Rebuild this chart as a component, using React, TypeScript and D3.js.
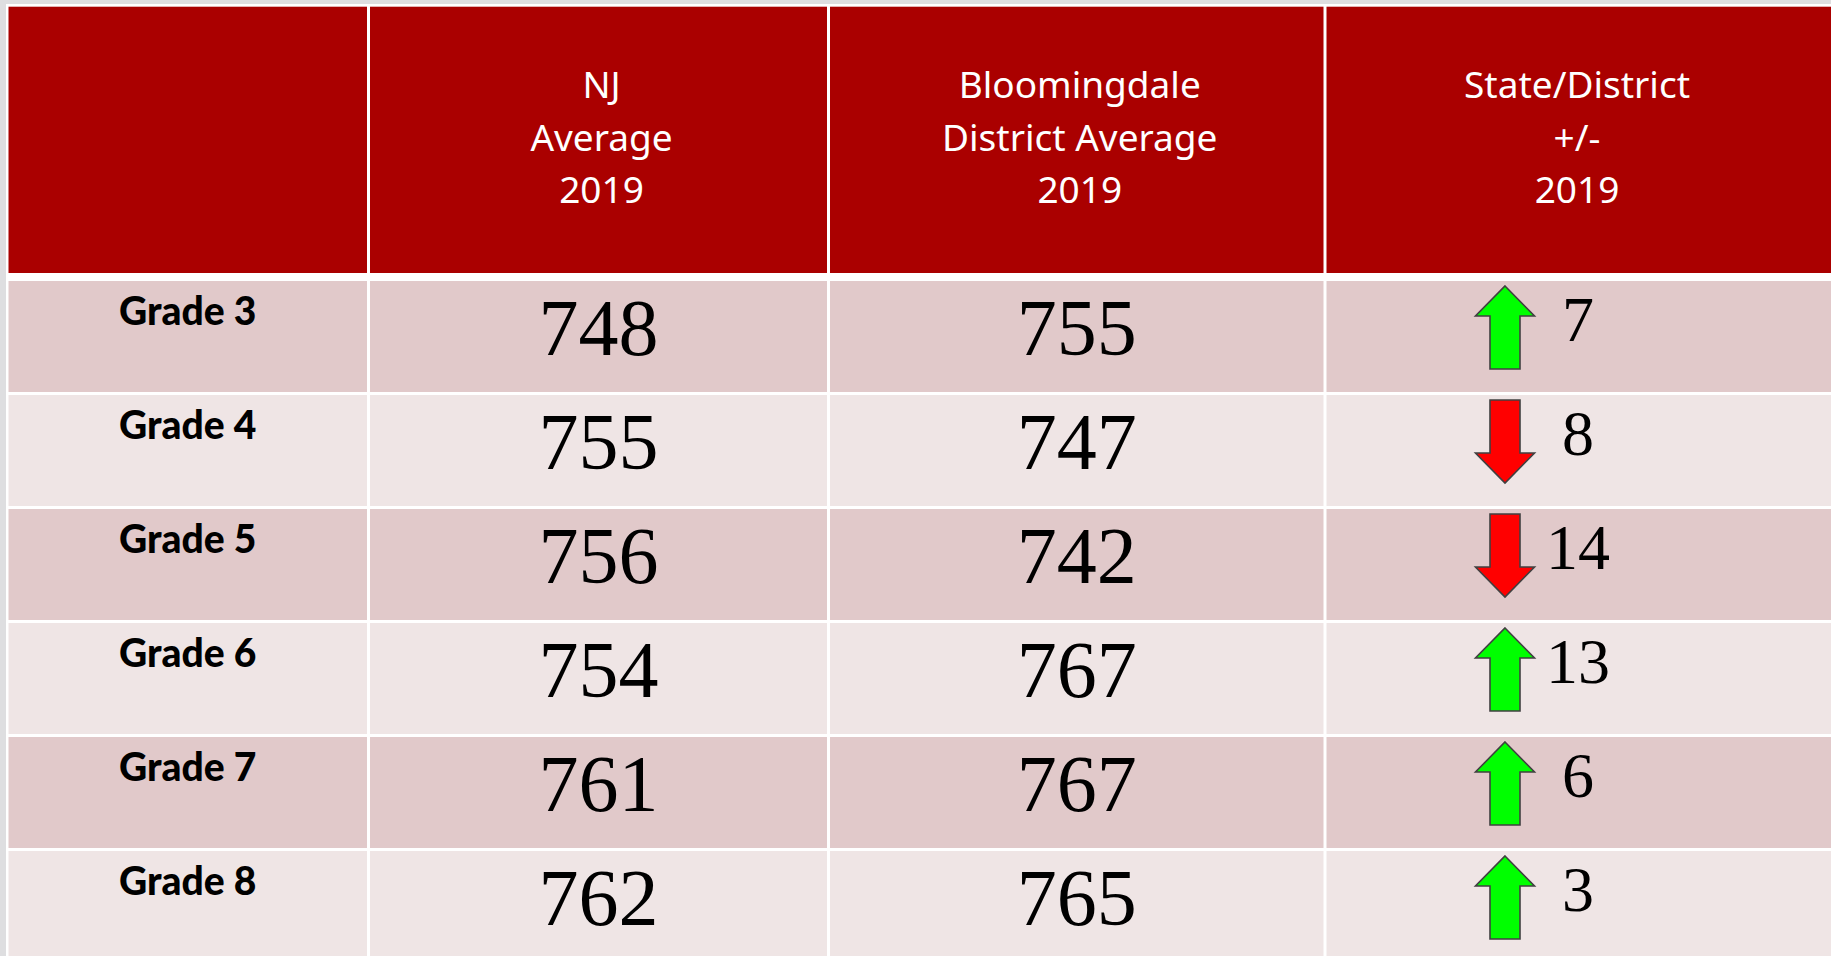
import * as d3 from "d3"

const grades = ["Grade 3", "Grade 4", "Grade 5", "Grade 6", "Grade 7", "Grade 8"]
const njAverage = [748, 755, 756, 754, 761, 762]
const districtAverage = [755, 747, 742, 767, 767, 765]
const difference = [7, -8, -14, 13, 6, 3]

const headerLines = [
  [],
  ["NJ", "Average", "2019"],
  ["Bloomingdale", "District Average", "2019"],
  ["State/District", "+/-", "2019"],
]

const W = 1831
const H = 956

// column edges (left, right)
const columns: [number, number][] = [
  [8.5, 367],
  [370, 827],
  [830, 1323.5],
  [1326.5, 1831],
]

const headerTop = 6.7
const headerBottom = 273
const rowsTop = 281

const rowScale = d3
  .scaleBand<string>()
  .domain(grades)
  .range([rowsTop, rowsTop + 5 * 114 + 111])
  .paddingInner(3 / 114)
  .paddingOuter(0)

const rowFill = ["#e1c9ca", "#efe5e5"]

function Arrow({ cx, top, up }: { cx: number; top: number; up: boolean }) {
  const headW = 29.5
  const shaftW = 15
  const len = 83
  const head = 30
  let pts: [number, number][]
  const t = top + 5
  if (up) {
    pts = [
      [cx, t],
      [cx + headW, t + head],
      [cx + shaftW, t + head],
      [cx + shaftW, t + len],
      [cx - shaftW, t + len],
      [cx - shaftW, t + head],
      [cx - headW, t + head],
    ]
  } else {
    const b = t + len
    pts = [
      [cx - shaftW, t],
      [cx + shaftW, t],
      [cx + shaftW, b - head],
      [cx + headW, b - head],
      [cx, b],
      [cx - headW, b - head],
      [cx - shaftW, b - head],
    ]
  }
  const line = d3.line().curve(d3.curveLinearClosed)
  return (
    <path
      d={line(pts) || ""}
      fill={up ? "#00ff00" : "#ff0000"}
      stroke="#404040"
      strokeWidth={1.6}
      strokeLinejoin="miter"
    />
  )
}

export default function App() {
  const headSans = "'Noto Sans', Lato, sans-serif"
  const sans = "Lato, 'Noto Sans', sans-serif"
  const serif = "'Liberation Serif', 'Times New Roman', serif"
  const mid = (c: [number, number]) => (c[0] + c[1]) / 2

  return (
    <div style={{ position: "fixed", left: 0, top: 0 }}>
      <svg width={W} height={H} style={{ display: "block" }}>
        <rect x={0} y={0} width={W} height={H} fill="#ffffff" />
        {/* grey strips along the slide edge */}
        <rect x={0} y={0} width={W} height={4} fill="#dedee0" />
        <rect x={0} y={0} width={6} height={H} fill="#dedee0" />

        {/* header */}
        {columns.map((c, i) => (
          <rect key={"h" + i} x={c[0]} y={headerTop} width={c[1] - c[0]} height={headerBottom - headerTop} fill="#aa0000" />
        ))}
        {headerLines.map((lines, i) =>
          lines.map((t, j) => (
            <text
              key={`ht${i}-${j}`}
              x={i === 3 ? 1577 : mid(columns[i]) + 3}
              y={98 + j * 52.5}
              textAnchor="middle"
              fill="#ffffff"
              fontFamily={headSans}
              fontSize={37}
            >
              {t}
            </text>
          ))
        )}

        {/* body rows */}
        {grades.map((g, r) => {
          const y = rowScale(g) as number
          const h = rowScale.bandwidth()
          const d = difference[r]
          return (
            <g key={g}>
              {columns.map((c, i) => (
                <rect key={i} x={c[0]} y={y} width={c[1] - c[0]} height={h} fill={rowFill[r % 2]} />
              ))}
              <text x={mid(columns[0])} y={y + 44} textAnchor="middle" fontFamily={sans} fontWeight={900} fontSize={39} fill="#000">
                {g}
              </text>
              <text x={mid(columns[1])} y={y + 74} textAnchor="middle" fontFamily={serif} fontSize={80} fill="#000">
                {njAverage[r]}
              </text>
              <text x={mid(columns[2])} y={y + 74} textAnchor="middle" fontFamily={serif} fontSize={80} fill="#000">
                {districtAverage[r]}
              </text>
              <Arrow cx={1505} top={y} up={d >= 0} />
              <text x={1578} y={y + 60} textAnchor="middle" fontFamily={serif} fontSize={64} fill="#000">
                {Math.abs(d)}
              </text>
            </g>
          )
        })}
      </svg>
    </div>
  )
}
